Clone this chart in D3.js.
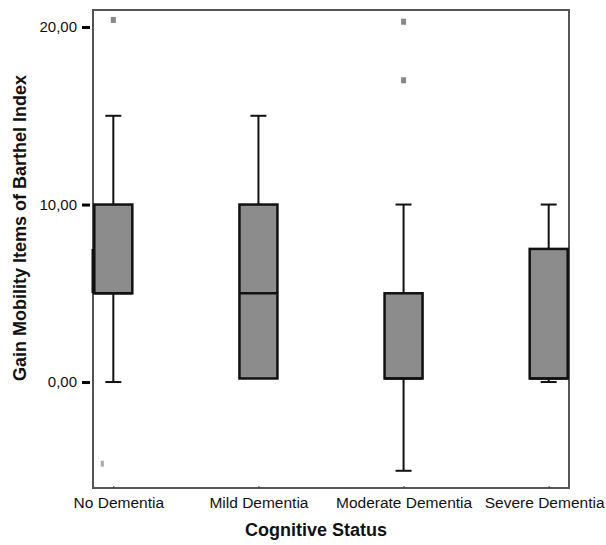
<!DOCTYPE html>
<html>
<head>
<meta charset="utf-8">
<script src="https://cdn.jsdelivr.net/npm/d3@7"></script>
<style>
  body { margin: 0; background: #fff; }
  text { font-family: "Liberation Sans", Arial, sans-serif; }
</style>
</head>
<body>
<svg id="chart" width="606" height="545"></svg>
<script>
// Data
const categories = ["No Dementia", "Mild Dementia", "Moderate Dementia", "Severe Dementia"];
const q1 = [5, 0.2, 0.2, 0.2];
const median = [5, 5, 0.2, 0.2];
const q3 = [10, 10, 5, 7.5];
const whiskerLow = [0, null, -5, 0];
const whiskerHigh = [15, 15, 10, 10];
const outliers = [
  { cat: "No Dementia", value: 20.4, faint: false },
  { cat: "No Dementia", value: -4.6, faint: true },
  { cat: "Moderate Dementia", value: 20.3, faint: false },
  { cat: "Moderate Dementia", value: 17.0, faint: false }
];
const yTicks = [0, 10, 20];

const margin = { top: 10, right: 37, bottom: 57, left: 93 };
const W = 606, H = 545;
const width = W - margin.left - margin.right, height = H - margin.top - margin.bottom;

const svg = d3.select("#chart");
const g = svg.append("g").attr("transform", `translate(${margin.left},${margin.top})`);

const x = d3.scalePoint().domain(categories).range([0, width]).padding(0.14);
const y = d3.scaleLinear().domain([-5.97, 20.96]).range([height, 0]);
const fmt = d => d3.format(".2f")(d).replace(".", ",");

// frame
g.append("rect").attr("width", width).attr("height", height)
  .attr("fill", "none").attr("stroke", "#555").attr("stroke-width", 2);

// odd thick segment on left frame
g.append("line").attr("x1", 0).attr("x2", 0).attr("y1", y(7.5)).attr("y2", y(5))
  .attr("stroke", "#111").attr("stroke-width", 3);

// y axis
const yAxis = g.append("g").attr("transform", "translate(-3,0)")
  .call(d3.axisLeft(y).tickValues(yTicks).tickFormat(fmt).tickSize(8).tickPadding(5));
yAxis.select(".domain").remove();
yAxis.selectAll(".tick line").attr("stroke", "#000").attr("stroke-width", 3);
yAxis.selectAll(".tick text").attr("font-size", 15).attr("fill", "#111")
  .style("font-family", "Liberation Sans, Arial, sans-serif");

// x axis
const xAxis = g.append("g").attr("transform", `translate(0,${height})`)
  .call(d3.axisBottom(x).tickSize(2).tickPadding(7));
xAxis.select(".domain").remove();
xAxis.selectAll(".tick line").attr("stroke", "#444").attr("transform", "translate(0,-2)");
xAxis.selectAll(".tick text").attr("font-size", 15.5).attr("fill", "#111")
  .style("font-family", "Liberation Sans, Arial, sans-serif")
  .each(function(d) {
    // keep labels inside the page, as in the reference
    const w = this.getComputedTextLength();
    const right = margin.left + x(d) + w / 2;
    const left = margin.left + x(d) - w / 2;
    if (right > W - 2) d3.select(this).attr("dx", (W - 2) - right);
    else if (d === categories[0]) d3.select(this).attr("dx", 5);
  });

// boxes
const boxW = 38, capW = 16;
const boxes = categories.map((c, i) => ({ c, q1: q1[i], med: median[i], q3: q3[i], lo: whiskerLow[i], hi: whiskerHigh[i] }));
const bg = g.selectAll(".box").data(boxes).enter().append("g").attr("class", "box");

bg.filter(d => d.hi !== null).append("line")
  .attr("x1", d => x(d.c)).attr("x2", d => x(d.c))
  .attr("y1", d => y(d.hi)).attr("y2", d => y(d.q3))
  .attr("stroke", "#111").attr("stroke-width", 2);
bg.filter(d => d.hi !== null).append("line")
  .attr("x1", d => x(d.c) - capW / 2).attr("x2", d => x(d.c) + capW / 2)
  .attr("y1", d => y(d.hi)).attr("y2", d => y(d.hi))
  .attr("stroke", "#111").attr("stroke-width", 2);
bg.filter(d => d.lo !== null).append("line")
  .attr("x1", d => x(d.c)).attr("x2", d => x(d.c))
  .attr("y1", d => y(d.q1)).attr("y2", d => y(d.lo))
  .attr("stroke", "#111").attr("stroke-width", 2);
bg.filter(d => d.lo !== null).append("line")
  .attr("x1", d => x(d.c) - capW / 2).attr("x2", d => x(d.c) + capW / 2)
  .attr("y1", d => y(d.lo)).attr("y2", d => y(d.lo))
  .attr("stroke", "#111").attr("stroke-width", 2);

bg.append("rect")
  .attr("x", d => x(d.c) - boxW / 2).attr("width", boxW)
  .attr("y", d => y(d.q3)).attr("height", d => y(d.q1) - y(d.q3))
  .attr("fill", "#8c8c8c").attr("stroke", "#111").attr("stroke-width", 2.5);
bg.append("line")
  .attr("x1", d => x(d.c) - boxW / 2).attr("x2", d => x(d.c) + boxW / 2)
  .attr("y1", d => y(d.med)).attr("y2", d => y(d.med))
  .attr("stroke", "#111").attr("stroke-width", 2.5);

// outliers
g.selectAll(".outlier").data(outliers).enter().append("rect")
  .attr("x", d => x(d.cat) - 2.5 - (d.faint ? 10 : 0)).attr("y", d => y(d.value) - 3)
  .attr("width", d => d.faint ? 3 : 5).attr("height", 6)
  .attr("fill", d => d.faint ? "#aaa" : "#888");

// axis titles
svg.append("text")
  .attr("transform", "translate(26,228) rotate(-90)")
  .attr("text-anchor", "middle").attr("font-size", 18).attr("font-weight", "bold").attr("fill", "#111")
  .text("Gain Mobility Items of Barthel Index");
svg.append("text")
  .attr("x", 316).attr("y", 536)
  .attr("text-anchor", "middle").attr("font-size", 18).attr("font-weight", "bold").attr("fill", "#111")
  .text("Cognitive Status");
</script>
</body>
</html>
